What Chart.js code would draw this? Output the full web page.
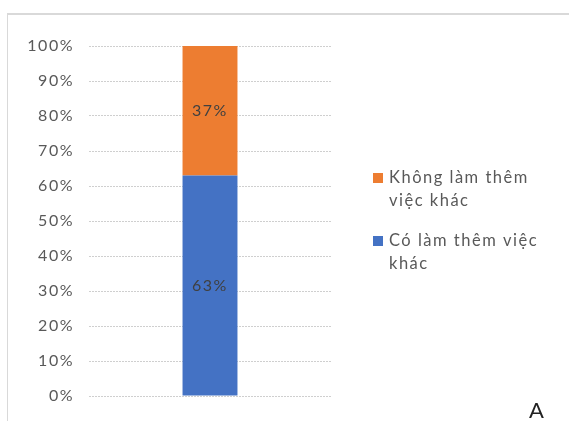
<!DOCTYPE html>
<html>
<head>
<meta charset="utf-8">
<script src="https://cdn.jsdelivr.net/npm/chart.js@4/dist/chart.umd.min.js"></script>
<style>
  html, body { margin: 0; padding: 0; background: #fff; }
  #wrap { position: relative; width: 569px; height: 421px; }
  #tag { position: absolute; left: 529px; top: 396px; font: 22px Lato, sans-serif; color: #222; }
</style>
</head>
<body>
<div id="wrap">
  <canvas id="myChart" width="569" height="421"></canvas>
  <div id="tag">A</div>
</div>
<script>
// values
var categories = [''];
var seriesNames = ['Có làm thêm việc khác', 'Không làm thêm việc khác'];
var coLam = [63];
var khongLam = [37];
var seriesColors = ['#4472c4', '#ed7d31'];
// legend lines as shown (wrapped), orange on top
var legendLines = [['Không làm thêm', 'việc khác'], ['Có làm thêm việc', 'khác']];

var FONT = 'Lato, sans-serif';

// frame + labels + legend drawn on canvas
var extras = {
  id: 'extras',
  beforeDraw: function(chart) {
    var ctx = chart.ctx;
    ctx.save();
    ctx.fillStyle = '#d9d9d9';
    ctx.fillRect(7, 13, 562, 2);
    ctx.fillRect(7, 13, 1, 408);
    ctx.restore();
    ctx.letterSpacing = '1.5px';
  },
  afterDatasetsDraw: function(chart) {
    var ctx = chart.ctx;
    ctx.save();
    ctx.font = '16px ' + FONT;
    ctx.fillStyle = '#404040';
    ctx.textAlign = 'center';
    ctx.textBaseline = 'middle';
    chart.data.datasets.forEach(function(ds, i) {
      var meta = chart.getDatasetMeta(i);
      meta.data.forEach(function(bar, j) {
        var y = (bar.y + bar.base) / 2;
        ctx.fillText(ds.data[j] + '%', bar.x, y);
      });
    });
    // legend
    var lx = 373, ly = [178, 241];
    var cols = [seriesColors[1], seriesColors[0]];
    ctx.textAlign = 'left';
    ctx.font = '16.5px ' + FONT;
    legendLines.forEach(function(lines, i) {
      ctx.fillStyle = cols[i];
      ctx.fillRect(lx, ly[i] - 5, 10, 10);
      ctx.fillStyle = '#595959';
      lines.forEach(function(t, k) {
        ctx.fillText(t, lx + 16, ly[i] + k * 23);
      });
    });
    ctx.restore();
  }
};

var ctx = document.getElementById('myChart').getContext('2d');
var chart = new Chart(ctx, {
  type: 'bar',
  data: {
    labels: categories,
    datasets: [
      { label: seriesNames[0], data: coLam, backgroundColor: seriesColors[0] },
      { label: seriesNames[1], data: khongLam, backgroundColor: seriesColors[1] }
    ]
  },
  options: {
    responsive: false,
    animation: false,
    layout: { padding: { left: 0, right: 238, top: 46, bottom: 25 } },
    plugins: { legend: { display: false }, tooltip: { enabled: false } },
    datasets: { bar: { categoryPercentage: 1, barPercentage: 0.227 } },
    scales: {
      x: { stacked: true, display: false },
      y: {
        stacked: true, min: 0, max: 100,
        afterFit: function(s) { s.width = 89; },
        ticks: { stepSize: 10, padding: 15, color: '#595959', font: { family: FONT, size: 16 },
          callback: function(v) { return v + '%'; } },
        grid: { color: '#cfcfcf', drawTicks: false },
        border: { display: false, dash: [2, 1] }
      }
    }
  },
  plugins: [extras]
});
</script>
</body>
</html>
